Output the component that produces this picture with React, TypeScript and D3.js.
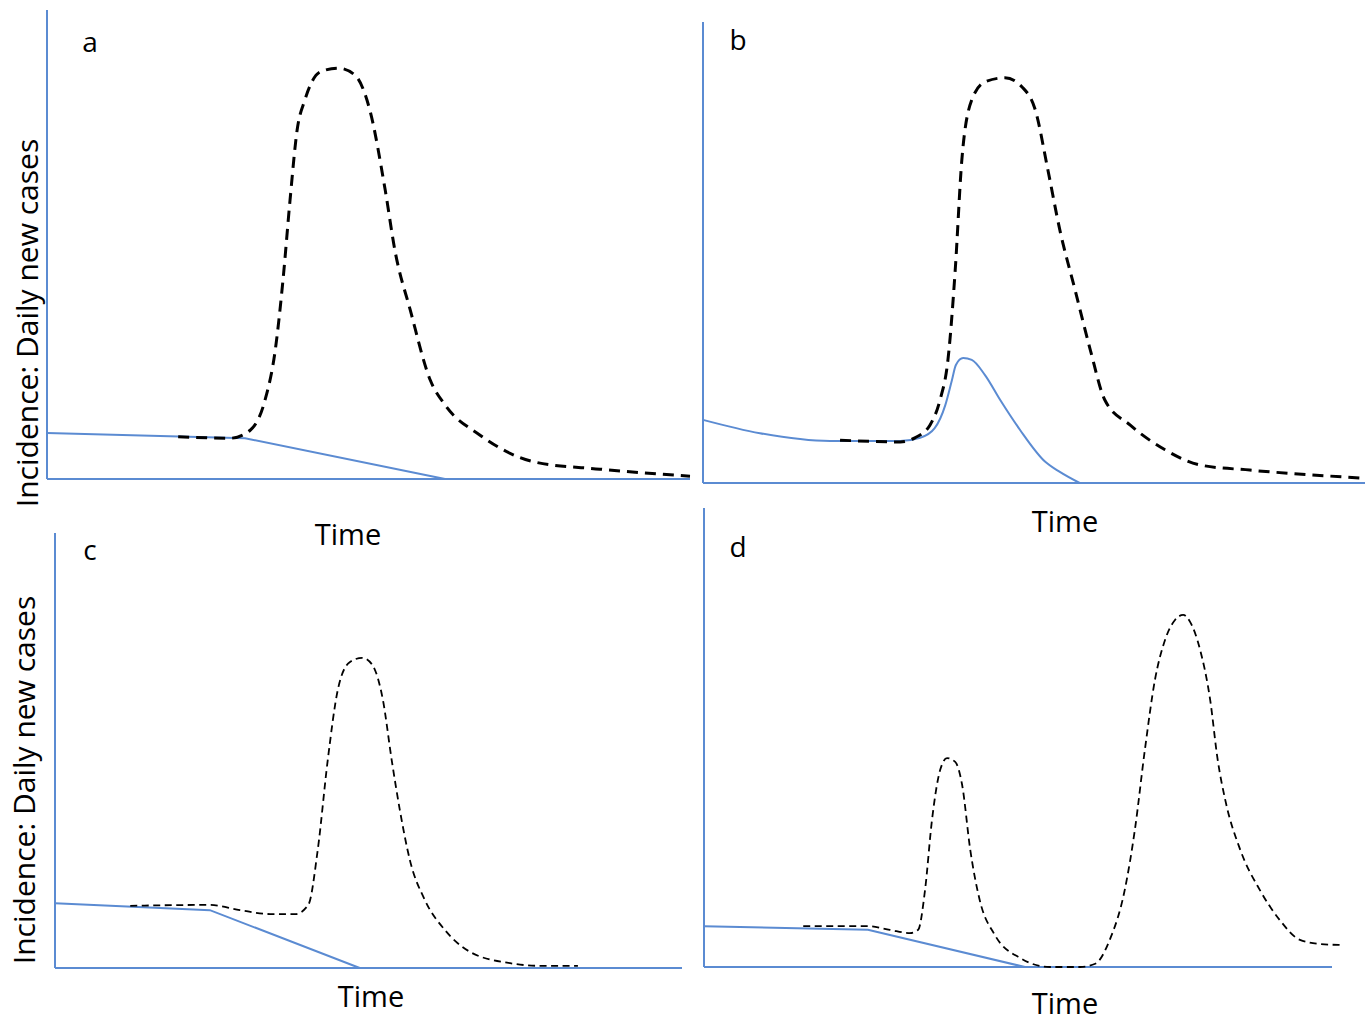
import React from "react";
import * as d3 from "d3";

type Pt = [number, number];

// Panel a
const aBlue: Pt[] = [[0, 9.8], [30.8, 8.7], [61.9, 0]];
const aDashed: Pt[] = [
  [20.4, 9.0], [28.5, 8.7], [31.6, 10.4], [33.9, 16.8], [35.5, 27.5], [36.7, 42.4],
  [37.8, 59.5], [38.9, 74.4], [40.1, 80.8], [42.5, 86.8], [45.3, 87.6], [47.9, 86.1],
  [50.2, 78.7], [52.6, 61.6], [54.1, 48.8], [56.5, 36.0], [59.6, 21.1], [61.9, 15.8],
  [67.3, 9.4], [75.9, 3.6], [86.0, 2.1], [100, 0.6],
];
// Panel b
const bBlue: Pt[] = [
  [0, 13.7], [8.6, 10.8], [19.2, 9.1], [29.8, 9.1], [32.8, 9.8], [35.0, 11.9],
  [36.6, 16.9], [37.6, 22.3], [38.2, 25.6], [39.3, 27.1], [40.6, 26.7], [42.6, 23.4],
  [44.9, 18.0], [47.9, 11.5], [51.7, 4.6], [53.9, 2.4], [56.9, 0],
];
const bDashed: Pt[] = [
  [20.7, 9.3], [29.8, 8.9], [32.0, 9.8], [34.3, 12.6], [35.8, 18.0], [37.0, 26.7],
  [38.1, 46.2], [39.1, 70.1], [40.6, 83.1], [42.6, 87.0], [45.6, 87.9], [48.2, 85.9],
  [50.2, 80.9], [52.1, 67.9], [53.9, 54.9], [56.2, 41.9], [58.5, 28.9], [60.7, 18.0],
  [64.5, 12.6], [69.8, 7.2], [75.1, 3.9], [82.6, 2.8], [99.2, 1.1],
];
// Panel c
const cBlue: Pt[] = [[0, 14.9], [24.7, 13.3], [48.6, 0]];
const cDashed: Pt[] = [
  [12.0, 14.3], [24.7, 14.5], [29.5, 13.3], [34.3, 12.4], [38.3, 12.4], [40.4, 14.5],
  [41.9, 27.1], [43.5, 47.8], [45.1, 63.9], [47.0, 70.3], [49.0, 71.3], [50.6, 69.7],
  [52.3, 61.6], [53.7, 47.8], [55.0, 36.3], [56.6, 24.8], [59.0, 15.6], [62.2, 8.7],
  [66.2, 3.7], [72.6, 1.1], [77.4, 0.5], [83.4, 0.5],
];
// Panel d
const dBlue: Pt[] = [[0, 8.9], [26.1, 8.1], [51.1, 0]];
const dDashed: Pt[] = [
  [15.8, 8.9], [26.1, 8.9], [29.6, 8.1], [32.8, 7.4], [34.1, 8.1], [35.2, 16.8],
  [36.3, 32.0], [37.6, 42.9], [38.7, 45.5], [40.0, 44.7], [41.1, 39.7], [42.4, 25.5],
  [43.9, 14.6], [46.3, 7.0], [50.3, 2.0], [55.1, 0], [59.9, 0], [62.3, 0.7],
  [64.6, 5.9], [67.0, 16.8], [68.6, 29.8], [70.2, 47.3], [71.8, 62.5], [73.4, 71.2],
  [75.0, 75.6], [76.3, 76.7], [77.4, 75.2], [79.0, 69.1], [80.6, 58.2], [81.8, 45.1],
  [83.0, 36.4], [85.4, 25.5], [88.5, 16.8], [91.7, 10.2], [94.9, 5.9], [98.1, 5.0],
  [101.3, 4.8],
];

const panelLetters = ["a", "b", "c", "d"];
const xLabel = "Time";
const yLabel = "Incidence: Daily new cases";

const BLUE = "#5b8bd2";
const FONT = "'Open Sans', sans-serif";

interface PanelCfg {
  letter: string;
  blue: Pt[];
  dashed: Pt[];
  x0: number; x1: number; yBottom: number; yTop: number; axisTop: number;
  letterX: number; letterY: number;
  timeX: number; timeY: number;
  dashW: number; dash: string;
}

const panels: PanelCfg[] = [
  { letter: panelLetters[0], blue: aBlue, dashed: aDashed, x0: 47, x1: 690, yBottom: 479, yTop: 10, axisTop: 10,
    letterX: 90, letterY: 52, timeX: 348, timeY: 545, dashW: 3, dash: "11 7" },
  { letter: panelLetters[1], blue: bBlue, dashed: bDashed, x0: 703, x1: 1365, yBottom: 483, yTop: 22, axisTop: 22,
    letterX: 738, letterY: 50, timeX: 1065, timeY: 532, dashW: 3, dash: "11 7" },
  { letter: panelLetters[2], blue: cBlue, dashed: cDashed, x0: 55, x1: 682, yBottom: 968, yTop: 533, axisTop: 533,
    letterX: 90, letterY: 560, timeX: 371, timeY: 1007, dashW: 1.8, dash: "7 4.5" },
  { letter: panelLetters[3], blue: dBlue, dashed: dDashed, x0: 704, x1: 1332, yBottom: 967, yTop: 508, axisTop: 508,
    letterX: 738, letterY: 557, timeX: 1065, timeY: 1014, dashW: 1.8, dash: "7 4.5" },
];

function Panel({ p }: { p: PanelCfg }) {
  const x = d3.scaleLinear().domain([0, 100]).range([p.x0, p.x1]);
  const y = d3.scaleLinear().domain([0, 100]).range([p.yBottom, p.yTop]);
  const smooth = d3.line<Pt>().x((d) => x(d[0])).y((d) => y(d[1])).curve(d3.curveMonotoneX);
  const straight = d3.line<Pt>().x((d) => x(d[0])).y((d) => y(d[1]));
  const blueLine = p.blue.length > 3 ? smooth(p.blue) : straight(p.blue);
  return (
    <g>
      <line x1={p.x0} x2={p.x0} y1={p.axisTop} y2={p.yBottom} stroke={BLUE} strokeWidth={2} />
      <line x1={p.x0} x2={p.x1} y1={p.yBottom} y2={p.yBottom} stroke={BLUE} strokeWidth={2} />
      <path d={blueLine ?? ""} fill="none" stroke={BLUE} strokeWidth={2} />
      <path d={smooth(p.dashed) ?? ""} fill="none" stroke="#000" strokeWidth={p.dashW} strokeDasharray={p.dash} />
      <text x={p.letterX} y={p.letterY} textAnchor="middle" fontFamily={FONT} fontSize={28} fill="#000">{p.letter}</text>
      <text x={p.timeX} y={p.timeY} textAnchor="middle" fontFamily={FONT} fontSize={29} fill="#000">{xLabel}</text>
    </g>
  );
}

export default function App() {
  return (
    <svg width={1372} height={1023} style={{ position: "absolute", left: 0, top: 0, background: "#fff" }}>
      <rect width={1372} height={1023} fill="#fff" />
      {panels.map((p) => <Panel key={p.letter} p={p} />)}
      <text transform="translate(38,323) rotate(-90)" textAnchor="middle" fontFamily={FONT} fontSize={30} fill="#000">{yLabel}</text>
      <text transform="translate(35,780) rotate(-90)" textAnchor="middle" fontFamily={FONT} fontSize={30} fill="#000">{yLabel}</text>
    </svg>
  );
}
